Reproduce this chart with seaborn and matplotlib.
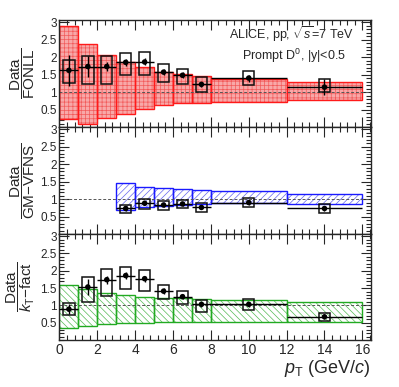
import numpy as np
import seaborn as sns
import matplotlib
matplotlib.use('Agg')
import matplotlib.pyplot as plt
from matplotlib.ticker import MultipleLocator

# bins and data
bin_lo = [0, 1, 2, 3, 4, 5, 6, 7, 8, 12]
bin_hi = [1, 2, 3, 4, 5, 6, 7, 8, 12, 16]
pt = [0.5, 1.5, 2.5, 3.5, 4.5, 5.5, 6.5, 7.5, 10, 14]

# Data/FONLL
fonll_val = [1.62, 1.73, 1.73, 1.85, 1.86, 1.57, 1.48, 1.22, 1.40, 1.14]
fonll_stat = [0.44, 0.30, 0.13, 0.10, 0.10, 0.08, 0.08, 0.08, 0.10, 0.22]
fonll_sys_lo = [1.27, 1.24, 1.22, 1.48, 1.50, 1.28, 1.24, 1.00, 1.19, 1.00]
fonll_sys_hi = [1.91, 2.02, 2.03, 2.12, 2.15, 1.79, 1.67, 1.43, 1.60, 1.37]
fonll_band_lo = [0.24, 0.10, 0.26, 0.38, 0.52, 0.62, 0.69, 0.69, 0.71, 0.78]
fonll_band_hi = [2.90, 2.38, 2.05, 1.86, 1.71, 1.57, 1.51, 1.45, 1.38, 1.29]

# Data/GM-VFNS (from 3 GeV/c)
gm_pt = [3.5, 4.5, 5.5, 6.5, 7.5, 10, 14]
gm_lo = [3, 4, 5, 6, 7, 8, 12]
gm_hi = [4, 5, 6, 7, 8, 12, 16]
gm_val = [0.73, 0.88, 0.83, 0.86, 0.76, 0.90, 0.73]
gm_stat = [0.06, 0.06, 0.05, 0.05, 0.05, 0.06, 0.08]
gm_sys_lo = [0.60, 0.72, 0.69, 0.73, 0.64, 0.76, 0.60]
gm_sys_hi = [0.84, 1.00, 0.94, 0.97, 0.88, 1.04, 0.86]
gm_band_lo = [0.69, 0.78, 0.80, 0.83, 0.86, 0.90, 0.86]
gm_band_hi = [1.47, 1.35, 1.31, 1.28, 1.26, 1.24, 1.14]

# Data/kT-fact
kt_val = [0.89, 1.53, 1.74, 1.86, 1.77, 1.41, 1.25, 1.03, 1.03, 0.67]
kt_stat = [0.15, 0.22, 0.12, 0.09, 0.09, 0.08, 0.07, 0.07, 0.08, 0.05]
kt_sys_lo = [0.72, 1.11, 1.27, 1.46, 1.41, 1.17, 1.03, 0.81, 0.86, 0.55]
kt_sys_hi = [1.06, 1.81, 2.06, 2.10, 2.01, 1.60, 1.41, 1.15, 1.17, 0.79]
kt_band_lo = [0.36, 0.41, 0.46, 0.49, 0.50, 0.51, 0.52, 0.52, 0.51, 0.53]
kt_band_hi = [1.60, 1.46, 1.36, 1.29, 1.25, 1.22, 1.20, 1.17, 1.15, 1.10]

sns.set_style('ticks')
plt.rcParams['font.family'] = ['Liberation Sans', 'DejaVu Sans']
plt.rcParams['mathtext.fontset'] = 'custom'
plt.rcParams['mathtext.rm'] = 'Liberation Sans'
plt.rcParams['mathtext.it'] = 'Liberation Sans:italic'
plt.rcParams['hatch.linewidth'] = 0.5

fig = plt.figure(figsize=(3.99, 3.87), dpi=100)
ax_top = fig.add_axes([0.149, 0.6718, 0.78, 0.2765])
ax_mid = fig.add_axes([0.149, 0.3953, 0.78, 0.2765])
ax_bot = fig.add_axes([0.149, 0.1214, 0.78, 0.2740])


def draw_panel(ax, lo, hi, band_lo, band_hi, x, val, stat, s_lo, s_hi, style, ylab):
    lo = np.array(lo); hi = np.array(hi)
    band_lo = np.array(band_lo); band_hi = np.array(band_hi)
    ax.bar(lo, band_hi - band_lo, width=hi - lo, bottom=band_lo, align='edge',
           facecolor=style['face'], edgecolor=style['hatch'], hatch=style['pattern'],
           linewidth=0, zorder=1)
    ax.bar(lo, band_hi - band_lo, width=hi - lo, bottom=band_lo, align='edge',
           facecolor='none', edgecolor=style['edge'], linewidth=1.0, zorder=2)
    ax.axhline(1, color='#555555', ls=(0, (3, 2)), lw=0.7, zorder=2.5)
    x = np.array(x)
    s_lo = np.array(s_lo); s_hi = np.array(s_hi)
    ax.bar(x, s_hi - s_lo, width=0.6, bottom=s_lo, facecolor='none',
           edgecolor='#111111', linewidth=1.1, zorder=3)
    xerr = (hi - lo)[-len(x):] / 2
    ax.errorbar(x, val, yerr=stat, xerr=xerr, fmt='none', ecolor='black',
                elinewidth=1.0, capsize=0, zorder=4)
    sns.scatterplot(x=x, y=val, ax=ax, color='black', s=16, edgecolor='none', zorder=5)
    ax.set_xlim(0, 16.44)
    ax.set_ylim(0, 3.06)
    ax.set_yticks([0.5, 1, 1.5, 2, 2.5, 3])
    ax.set_yticklabels(['0.5', '1', '1.5', '2', '2.5', '3'])
    ax.xaxis.set_major_locator(MultipleLocator(2))
    ax.xaxis.set_minor_locator(MultipleLocator(0.4))
    ax.yaxis.set_minor_locator(MultipleLocator(0.1))
    ax.tick_params(which='both', direction='in', top=True, right=True,
                   labelsize=8.5, width=0.8, pad=2)
    ax.tick_params(which='major', length=7)
    ax.tick_params(which='minor', length=3.5)
    for sp in ax.spines.values():
        sp.set_linewidth(1.0)
    ax.set_ylabel(ylab, fontsize=11, labelpad=2)


red = dict(face='#f8a8a8', hatch='#f25a5a', pattern='++++', edge='#ff1a1a')
blue = dict(face='white', hatch='#6666ee', pattern='/////', edge='#1a1aff')
green = dict(face='white', hatch='#55bb55', pattern='\\\\\\\\\\', edge='#22aa22')

draw_panel(ax_top, bin_lo, bin_hi, fonll_band_lo, fonll_band_hi, pt, fonll_val,
           fonll_stat, fonll_sys_lo, fonll_sys_hi, red,
           r'$\dfrac{\mathrm{Data}}{\mathrm{FONLL}}$')
draw_panel(ax_mid, gm_lo, gm_hi, gm_band_lo, gm_band_hi, gm_pt, gm_val,
           gm_stat, gm_sys_lo, gm_sys_hi, blue,
           r'$\dfrac{\mathrm{Data}}{\mathrm{GM}\mathrm{-}\mathrm{VFNS}}$')
draw_panel(ax_bot, bin_lo, bin_hi, kt_band_lo, kt_band_hi, pt, kt_val,
           kt_stat, kt_sys_lo, kt_sys_hi, green,
           r'$\dfrac{\mathrm{Data}}{k_{\mathrm{T}}\mathrm{-fact}}$')

ax_top.tick_params(labelbottom=False)
ax_mid.tick_params(labelbottom=False)
ax_bot.tick_params(axis='x', labelsize=10)

ax_top.text(0.945, 0.87, r'ALICE, pp, $\sqrt{s}$=7 TeV', transform=ax_top.transAxes,
            ha='right', va='center', fontsize=9)
ax_top.text(0.92, 0.66, r'Prompt D$^{0}$, |y|<0.5', transform=ax_top.transAxes,
            ha='right', va='center', fontsize=9)

ax_bot.set_xlabel(r'$p_{\mathrm{T}}$ (GeV/$c$)', fontsize=13, loc='right', labelpad=1)

fig.savefig('out.png', dpi=100)
